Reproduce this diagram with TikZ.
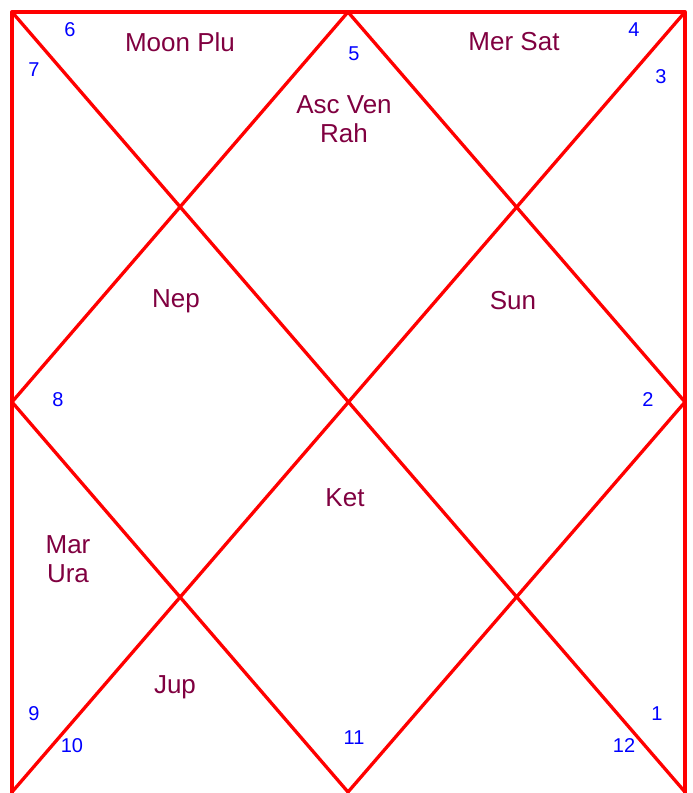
\documentclass[tikz,border=0pt]{standalone}
\usepackage{fontspec}
\setmainfont{Liberation Sans}
\definecolor{planet}{RGB}{128,0,64}
\definecolor{housenum}{RGB}{0,0,255}
\definecolor{chartline}{RGB}{255,0,0}
\tikzset{
  chart/.style={draw=chartline, line width=3.3pt, line join=round, line cap=round},
  pl/.style={text=planet, font=\fontsize{26}{29}\selectfont, align=center, inner sep=0pt},
  hn/.style={text=housenum, font=\fontsize{20}{22}\selectfont, inner sep=0pt}
}
\begin{document}
\begin{tikzpicture}[x=1pt,y=-1pt]
\useasboundingbox (0,0) rectangle (693,793);
\coordinate (TL) at (12,12);
\coordinate (TR) at (685,12);
\coordinate (BL) at (12,792);
\coordinate (BR) at (685,792);
\coordinate (BLx) at (12,795);
\coordinate (BRx) at (685,795);
\coordinate (TM) at (348,12);
\coordinate (RM) at (685,402);
\coordinate (BM) at (348,792);
\coordinate (LM) at (12,402);
\draw[chart] (BLx) -- (TL) -- (TR) -- (BRx);
\draw[chart] (TL) -- (BR);
\draw[chart] (TR) -- (BL);
\draw[chart] (TM) -- (RM) -- (BM) -- (LM) -- cycle;
% planets
\node[pl] (moon) at (180,42) {Moon Plu};
\node[pl] (asc) at (344,119) {Asc Ven\\Rah};
\node[pl] (mer) at (514,42) {Mer Sat};
\node[pl] (nep) at (176,301) {Nep};
\node[pl] (sun) at (513,301) {Sun};
\node[pl] (ket) at (345,498) {Ket};
\node[pl] (mar) at (68,559) {Mar\\Ura};
\node[pl] (jup) at (175,687) {Jup};
% house numbers
\node[hn] (h6) at (70,30) {6};
\node[hn] (h7) at (34,70) {7};
\node[hn] (h5) at (354,54) {5};
\node[hn] (h4) at (634,30) {4};
\node[hn] (h3) at (661,77) {3};
\node[hn] (h8) at (58,400) {8};
\node[hn] (h2) at (648,400) {2};
\node[hn] (h9) at (34,714) {9};
\node[hn] (h10) at (72,746) {10};
\node[hn] (h11) at (354,738) {11};
\node[hn] (h1) at (657,714) {1};
\node[hn] (h12) at (624,746) {12};
\end{tikzpicture}
\end{document}
